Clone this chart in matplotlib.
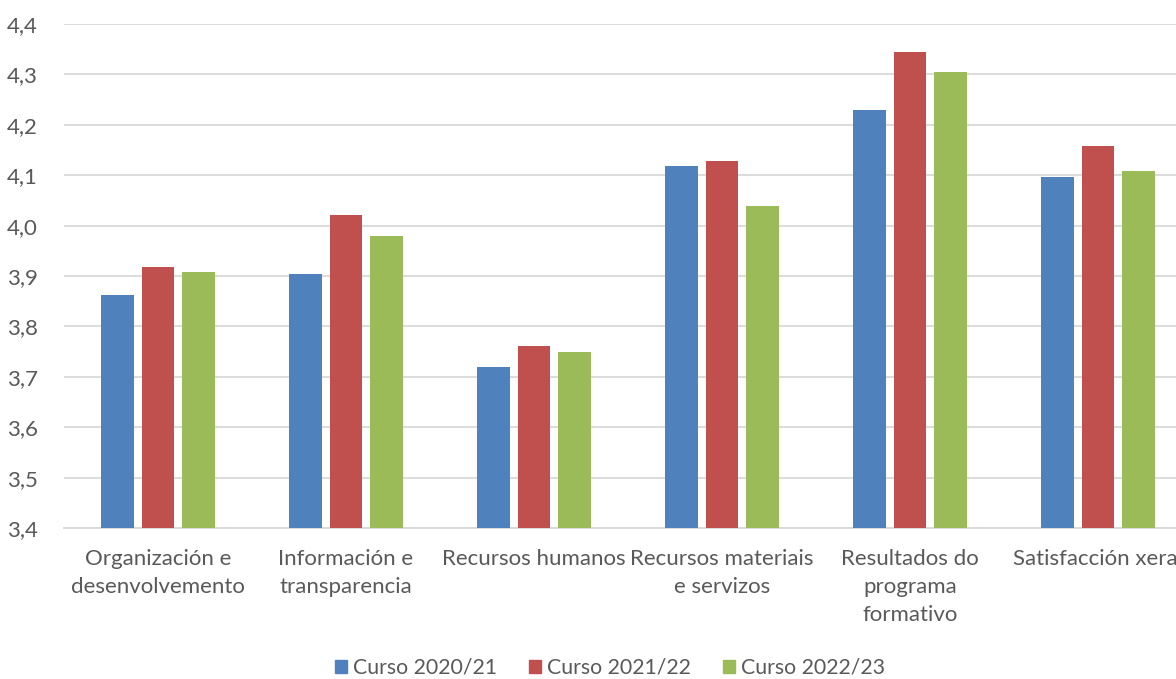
import numpy as np
import matplotlib.pyplot as plt
from matplotlib.patches import Patch

plt.rcParams['font.family'] = ['Lato', 'DejaVu Sans']

# data
categories = ['Organización e\ndesenvolvemento', 'Información e\ntransparencia',
              'Recursos humanos', 'Recursos materiais\ne servizos',
              'Resultados do\nprograma\nformativo', 'Satisfacción xeral']
series_names = ['Curso 2020/21', 'Curso 2021/22', 'Curso 2022/23']
curso_2020 = [3.862, 3.904, 3.719, 4.119, 4.229, 4.096]
curso_2021 = [3.917, 4.021, 3.761, 4.129, 4.344, 4.157]
curso_2022 = [3.908, 3.979, 3.749, 4.038, 4.305, 4.108]
yticks = [3.4, 3.5, 3.6, 3.7, 3.8, 3.9, 4.0, 4.1, 4.2, 4.3, 4.4]

colors = ['#4F81BD', '#C0504D', '#9BBB59']
text_col = '#595959'

fig = plt.figure(figsize=(11.76, 6.79), dpi=100)
ax = fig.add_axes([64 / 1176, 151 / 679, 1128 / 1176, 504 / 679])

x = np.arange(len(categories))
w = 0.1755
step = 0.218
for i, vals in enumerate([curso_2020, curso_2021, curso_2022]):
    ax.bar(x + (i - 1) * step, np.array(vals) - 3.4, bottom=3.4, width=w,
           color=colors[i], zorder=3)

ax.set_xlim(-0.5, len(categories) - 0.5)
ax.set_ylim(3.4, 4.4)
ax.set_yticks(yticks)
ax.set_yticklabels([f'{v:.1f}'.replace('.', ',') for v in yticks])
ax.yaxis.grid(True, color='#D9D9D9', linewidth=1.3, zorder=0)
ax.set_xticks(x)
ax.set_xticklabels(categories, linespacing=1.5)
ax.tick_params(axis='both', length=0, labelsize=16, colors=text_col)
ax.tick_params(axis='y', pad=19)
ax.tick_params(axis='x', pad=15)
for s in ['top', 'right', 'left']:
    ax.spines[s].set_visible(False)
ax.spines['bottom'].set_color('#D9D9D9')
ax.spines['bottom'].set_linewidth(1.3)

handles = [Patch(color=c) for c in colors]
leg = fig.legend(handles, series_names, loc='center', bbox_to_anchor=(610 / 1176, 11 / 679),
                 ncol=3, frameon=False, fontsize=15.3, handlelength=0.55,
                 handleheight=0.55, handletextpad=0.3, columnspacing=1.5)
for t in leg.get_texts():
    t.set_color(text_col)

fig.savefig('out.png', dpi=100)
